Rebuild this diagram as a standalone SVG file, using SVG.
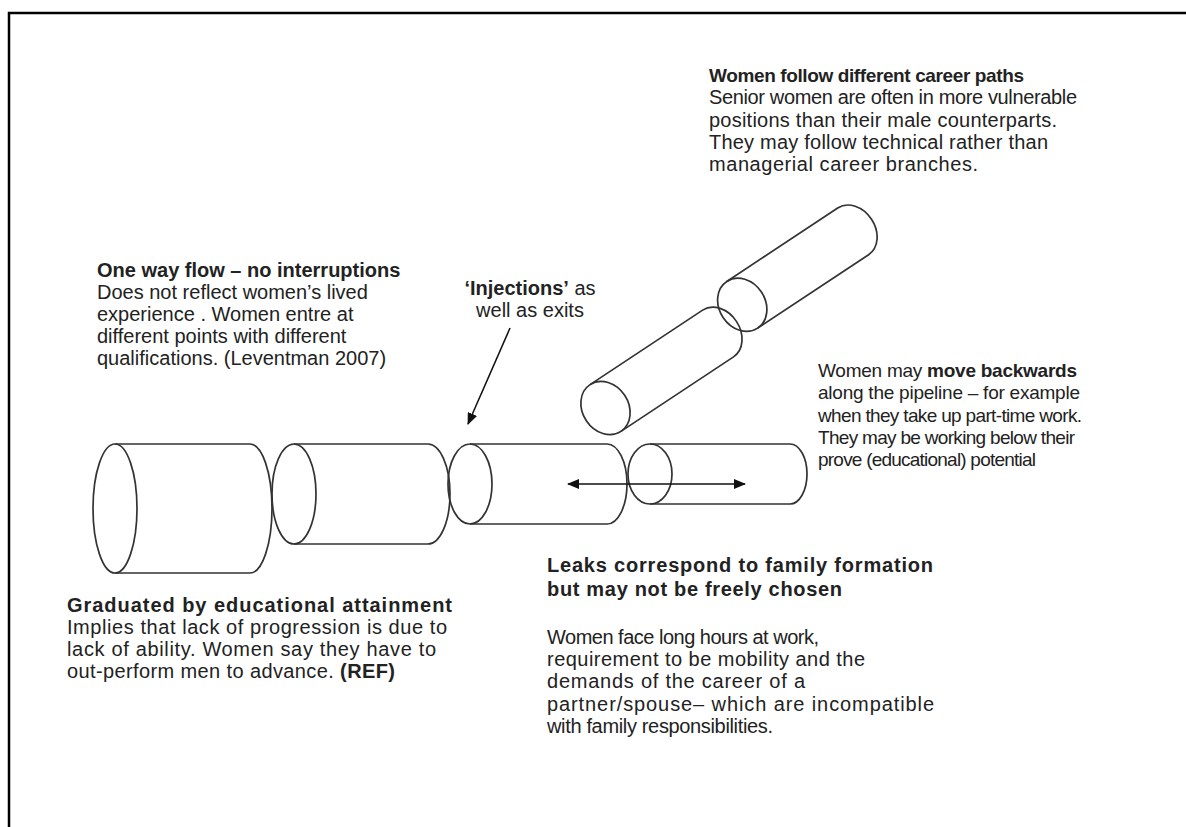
<svg xmlns="http://www.w3.org/2000/svg" width="1186" height="827" viewBox="0 0 1186 827">
<defs>
<style>
.t{font-family:"Liberation Sans",Arial,sans-serif;font-size:20px;fill:#222}
.r{font-size:19px}
.s{font-size:19px}
.b{font-weight:bold}
.cyl{fill:none;stroke:#333;stroke-width:1.7}
.con{stroke:#111;stroke-width:1.6;fill:none}
</style>
<marker id="ah" viewBox="0 0 12 10" refX="11" refY="5" markerWidth="12" markerHeight="10" markerUnits="userSpaceOnUse" orient="auto-start-reverse">
<path d="M0,0 L12,5 L0,10 Z" fill="#111"/>
</marker>
</defs>
<rect width="1186" height="827" fill="#fff"/>
<path d="M9,827 L9,13 L1186,13" fill="none" stroke="#000" stroke-width="2.5"/>

<g id="cyl1" class="cyl"><ellipse cx="115" cy="508.5" rx="22" ry="64.5"/><path d="M115,444 L250,444 A22,64.5 0 0 1 250,573 L115,573"/></g>
<g id="cyl2" class="cyl"><ellipse cx="294" cy="494" rx="22" ry="50"/><path d="M294,444 L428,444 A22,50 0 0 1 428,544 L294,544"/></g>
<g id="cyl3" class="cyl"><ellipse cx="470" cy="484" rx="22" ry="40"/><path d="M470,444 L607,444 A20,40 0 0 1 607,524 L470,524"/></g>
<g id="cyl4" class="cyl"><ellipse cx="650" cy="474" rx="22" ry="30"/><path d="M650,444 L790,444 A17,30 0 0 1 790,504 L650,504"/></g>
<g id="branch" class="cyl" transform="translate(605.5,408) rotate(-33.5)">
<ellipse cx="0" cy="0" rx="23" ry="28"/><path d="M0,-28 L135,-28 A22,28 0 0 1 135,28 L0,28"/>
<ellipse cx="171" cy="-10.6" rx="23" ry="28"/><path d="M171,-38.6 L304,-38.6 A22,28 0 0 1 304,17.4 L171,17.4"/>
</g>

<g id="connectors">
<line class="con" x1="510" y1="328" x2="468" y2="424" marker-end="url(#ah)"/>
<line class="con" x1="568" y1="484" x2="745" y2="484" marker-start="url(#ah)" marker-end="url(#ah)"/>
</g>

<g id="career-paths" class="t">
<text x="709" y="82" class="b s" textLength="315" lengthAdjust="spacing">Women follow different career paths</text>
<text x="709" y="104" textLength="368" lengthAdjust="spacing">Senior women are often in more vulnerable</text>
<text x="709" y="127" textLength="348" lengthAdjust="spacing">positions than their male counterparts.</text>
<text x="709" y="149" textLength="339" lengthAdjust="spacing">They may follow technical rather than</text>
<text x="709" y="171" textLength="269" lengthAdjust="spacing">managerial career branches.</text>
</g>
<g id="one-way" class="t">
<text x="97" y="277" class="b">One way flow – no interruptions</text>
<text x="97" y="299">Does not reflect women’s lived</text>
<text x="97" y="321">experience . Women entre at</text>
<text x="97" y="343">different points with different</text>
<text x="97" y="365">qualifications. (Leventman 2007)</text>
</g>
<g id="injections" class="t">
<text x="530" y="295" text-anchor="middle"><tspan class="b">‘Injections’</tspan> as</text>
<text x="530" y="317" text-anchor="middle">well as exits</text>
</g>
<g id="backwards" class="t r">
<text x="818" y="377" textLength="259" lengthAdjust="spacing">Women may <tspan class="b">move backwards</tspan></text>
<text x="818" y="399" textLength="262" lengthAdjust="spacing">along the pipeline – for example</text>
<text x="818" y="422" textLength="264" lengthAdjust="spacing">when they take up part-time work.</text>
<text x="818" y="444" textLength="257" lengthAdjust="spacing">They may be working below their</text>
<text x="818" y="466" textLength="218" lengthAdjust="spacing">prove (educational) potential</text>
</g>
<g id="leaks" class="t">
<text x="547" y="572" class="b" textLength="386" lengthAdjust="spacing">Leaks correspond to family formation</text>
<text x="547" y="596" class="b" textLength="295" lengthAdjust="spacing">but may not be freely chosen</text>
<text x="547" y="644" textLength="272" lengthAdjust="spacing">Women face long hours at work,</text>
<text x="547" y="666" textLength="318" lengthAdjust="spacing">requirement to be mobility and the</text>
<text x="547" y="688" textLength="258" lengthAdjust="spacing">demands of the career of a</text>
<text x="547" y="711" textLength="387" lengthAdjust="spacing">partner/spouse– which are incompatible</text>
<text x="547" y="733" textLength="226" lengthAdjust="spacing">with family responsibilities.</text>
</g>
<g id="graduated" class="t">
<text x="67" y="612" class="b" textLength="385" lengthAdjust="spacing">Graduated by educational attainment</text>
<text x="67" y="634" textLength="380" lengthAdjust="spacing">Implies that lack of progression is due to</text>
<text x="67" y="656" textLength="369" lengthAdjust="spacing">lack of ability. Women say they have to</text>
<text x="67" y="678" textLength="328" lengthAdjust="spacing">out-perform men to advance. <tspan class="b">(REF)</tspan></text>
</g>
</svg>
